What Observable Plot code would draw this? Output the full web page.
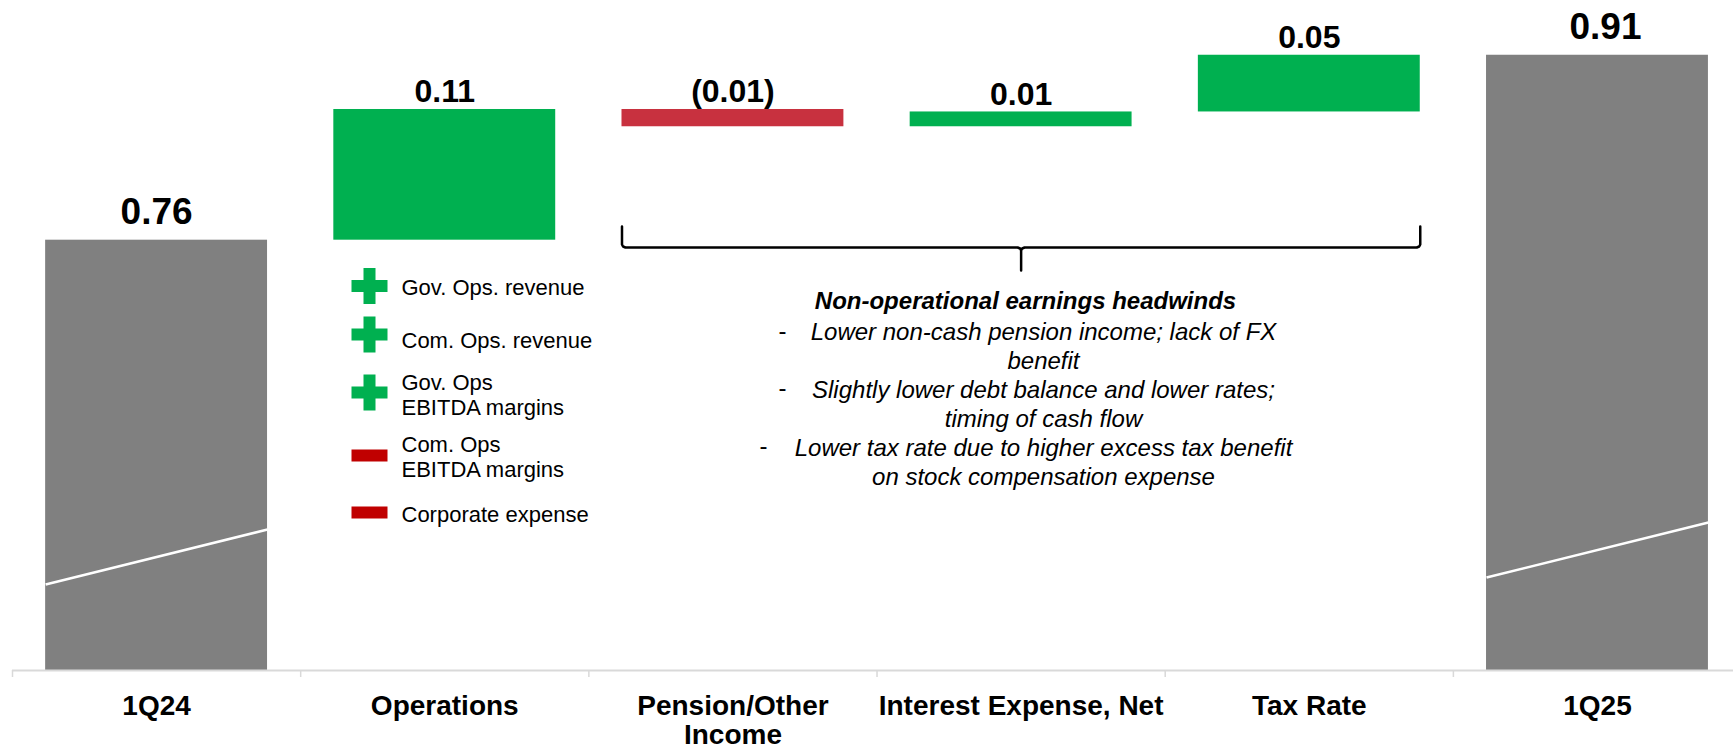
<!DOCTYPE html>
<html><head><meta charset="utf-8">
<script src="https://cdn.jsdelivr.net/npm/d3@7"></script>
<script src="https://cdn.jsdelivr.net/npm/@observablehq/plot@0.6"></script>
<style>html,body{margin:0;padding:0;background:#fff;} svg{display:block;overflow:visible}</style>
</head><body><div id="chart"></div>
<script>
// ---- data ----
const categories = ["1Q24", "Operations", "Pension/Other\nIncome", "Interest Expense, Net", "Tax Rate", "1Q25"];
const kinds = ["total", "change", "change", "change", "change", "total"];
const values = [0.76, 0.106, -0.014, 0.012, 0.046, 0.91];
const valueLabels = ["0.76", "0.11", "(0.01)", "0.01", "0.05", "0.91"];
const legendLabels = ["Gov. Ops. revenue", "Com. Ops. revenue", "Gov. Ops\nEBITDA margins", "Com. Ops\nEBITDA margins", "Corporate expense"];
const legendSigns = ["+", "+", "+", "-", "-"];
const noteTitle = "Non-operational earnings headwinds";
const noteLines = [
  "Lower non-cash pension income; lack of FX",
  "benefit",
  "Slightly lower debt balance and lower rates;",
  "timing of cash flow",
  "Lower tax rate due to higher excess tax benefit",
  "on stock compensation expense"
];
const noteDashed = [true, false, true, false, true, false];

// ---- layout ----
const W = 1733, H = 747;
const ML = 12, MB = 77;
const Y_MIN = 0.411, Y_MAX = 0.9544;     // broken axis: bars start at Y_MIN
const X_DOMAIN = [-0.5, 5.472];
const HW = 0.385;                          // half bar width, in category units
const py2v = d3.scaleLinear([H - MB, 0], [Y_MIN, Y_MAX]);
const px2x = d3.scaleLinear([ML, W], X_DOMAIN);
const pxUnit = (X_DOMAIN[1] - X_DOMAIN[0]) / (W - ML);

const GRAY = "#808080", GREEN = "#00b050", RED = "#c8313f", LEG_RED = "#c00000", AXIS = "#d9d9d9";

let run = 0;
const rows = categories.map((c, i) => {
  let y1, y2;
  if (kinds[i] === "total") { y1 = Y_MIN; y2 = values[i]; run = values[i]; }
  else { y1 = run; y2 = run + values[i]; run = y2; }
  const color = kinds[i] === "total" ? GRAY : (values[i] >= 0 ? GREEN : RED);
  return {i, c, y1, y2, top: Math.max(y1, y2), kind: kinds[i], label: valueLabels[i], color};
});
const totals = rows.filter(d => d.kind === "total");
const changes = rows.filter(d => d.kind === "change");

// break lines in total bars (pixel offsets of the left end above baseline)
const breakLeftPx = [584, 577];
const breaks = totals.map((d, k) => ({x1: d.i - HW, x2: d.i + HW, y1: py2v(breakLeftPx[k]), y2: py2v(breakLeftPx[k] - 55)}));

const edges = d3.range(-0.5, 5.5, 1);

// legend
const legSymY = [285.5, 334, 392, 455, 512];
const legTxtY = [286, 339, 394, 455.5, 513];
const legend = legendLabels.map((t, k) => ({t, s: legendSigns[k], ys: py2v(legSymY[k]), yt: py2v(legTxtY[k])}));
const crossSym = {draw(ctx, size) { const r = Math.sqrt(size / 5) / 2;
  ctx.moveTo(-3*r, -r); ctx.lineTo(-r, -r); ctx.lineTo(-r, -3*r); ctx.lineTo(r, -3*r); ctx.lineTo(r, -r);
  ctx.lineTo(3*r, -r); ctx.lineTo(3*r, r); ctx.lineTo(r, r); ctx.lineTo(r, 3*r); ctx.lineTo(-r, 3*r);
  ctx.lineTo(-r, r); ctx.lineTo(-3*r, r); ctx.closePath(); }};
const minusSym = {draw(ctx, size) { const r = Math.sqrt(size / 5) / 2;
  ctx.moveTo(-3*r, -r); ctx.lineTo(3*r, -r); ctx.lineTo(3*r, r); ctx.lineTo(-3*r, r); ctx.closePath(); }};
const symR = Math.sqrt(720 / Math.PI);

// brace under the three non-operational bars
const bL = 2 - HW, bR = 4 + HW, bC = 3, e = 0.012;
const yT = py2v(226), yH = py2v(247), yTip = py2v(270), yc = py2v(244), yc2 = py2v(250);
const brace = [
  [bL, yT], [bL, yc], [bL + e * 0.3, py2v(246)], [bL + e, yH],
  [bC - e, yH], [bC - e * 0.3, py2v(248)], [bC, yc2], [bC, yTip], [bC, yc2], [bC + e * 0.3, py2v(248)], [bC + e, yH],
  [bR - e, yH], [bR - e * 0.3, py2v(246)], [bR, yc], [bR, yT]
];

const FONT = "'Liberation Sans', Arial, Helvetica, sans-serif";

const chart = Plot.plot({
  width: W, height: H,
  marginLeft: ML, marginRight: 0, marginTop: 0, marginBottom: MB,
  style: {fontFamily: FONT, background: "#fff", color: "#000", overflow: "visible"},
  x: {type: "linear", domain: X_DOMAIN, axis: null},
  y: {domain: [Y_MIN, Y_MAX], axis: null},
  marks: [
    Plot.rectY(rows, {x1: d => d.i - HW, x2: d => d.i + HW, y1: "y1", y2: "y2", fill: "color"}),
    Plot.link(breaks, {x1: "x1", x2: "x2", y1: "y1", y2: "y2", stroke: "#fff", strokeWidth: 2.5}),
    Plot.ruleY([Y_MIN], {stroke: AXIS, strokeWidth: 2}),
    Plot.ruleX(edges, {x: d => d, y1: Y_MIN, y2: py2v(677), stroke: AXIS, strokeWidth: 1.5}),
    Plot.text(rows, {x: "i", y: Y_MIN, text: "c", lineAnchor: "top", dy: 24, fontSize: 28, fontWeight: "bold", lineHeight: 1.04, fill: "#000"}),
    Plot.text(totals, {x: d => d.i === 5 ? d.i + 8 * pxUnit : d.i, y: "top", text: "label", lineAnchor: "bottom", dy: -16, fontSize: 37, fontWeight: "bold", fill: "#000"}),
    Plot.text(changes, {x: "i", y: "top", text: "label", lineAnchor: "bottom", dy: -7, fontSize: 32, fontWeight: "bold", fill: "#000"}),
    // legend
    Plot.dot(legend, {x: px2x(369), y: "ys", r: symR, symbol: d => d.s === "+" ? crossSym : minusSym, fill: d => d.s === "+" ? GREEN : LEG_RED, stroke: null}),
    Plot.text(legend, {x: px2x(401), y: "yt", text: "t", textAnchor: "start", lineAnchor: "middle", fontSize: 22, lineHeight: 25 / 22, fill: "#000"}),
    // brace
    Plot.line(brace, {x: d => d[0], y: d => d[1], stroke: "#000", strokeWidth: 2.5, strokeLinejoin: "round"}),
    // note
    Plot.text([noteTitle], {x: px2x(1025), y: py2v(300.6), text: d => d, lineAnchor: "middle", fontSize: 24, fontWeight: "bold", fontStyle: "italic", fill: "#000"}),
    Plot.text([noteLines.join("\n")], {x: px2x(1043), y: py2v(402.75), text: d => d, lineAnchor: "middle", fontSize: 24, fontStyle: "italic", lineHeight: 29 / 24, fill: "#000"}),
    Plot.text(noteLines.map((t, k) => ({k, d: noteDashed[k]})).filter(d => d.d), {
      x: d => px2x(d.k === 4 ? 763 : 782), y: d => py2v(330.5 + d.k * 28.9), text: () => "-", lineAnchor: "middle", fontSize: 24, fill: "#000"})
  ]
});
document.getElementById("chart").appendChild(chart);
</script>
</body></html>
